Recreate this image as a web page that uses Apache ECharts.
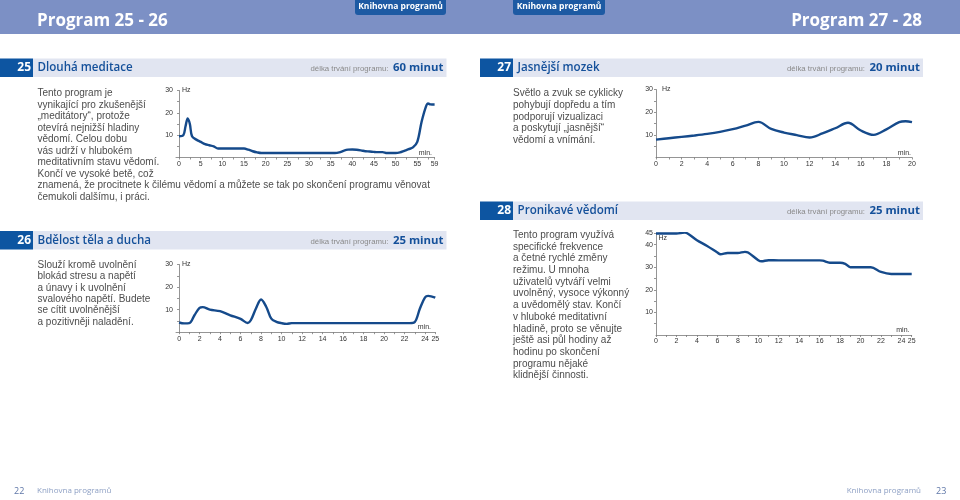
<!DOCTYPE html>
<html><head><meta charset="utf-8">
<script src="https://cdn.jsdelivr.net/npm/echarts@6/dist/echarts.min.js"></script>
<style>html,body{margin:0;padding:0;background:#fff}#c{width:960px;height:500px}</style>
</head><body><div id="c"></div>
<script>
// ---- data ----
const min25 = [0,1,1.5,2,2.5,3,4,5,6,7,8,9,10,12,14,15,16,17,18,19,20,25,30,36,37,38,39,40,41,42,43,44,45,46,47,48,49,50,51,52,53,54,55,56,57,57.5,58,59];
const hz25  = [9.5,10,14,17.5,15,9.5,8,7,6,5.5,5,4,4,4,4,4,3.5,2.8,2.3,2,2,2,2,2,2.3,3,3.5,3.6,3.5,3.2,2.8,2.7,2.5,2.4,2.4,2,2,2,2.3,3,3.7,4.5,7,16,22.8,24.2,23.8,23.7];
const min26 = [0,0.5,1,1.5,2,2.3,3,4,5,6,6.7,7,7.5,8,8.5,9,9.5,10,10.5,11,15,20,22.5,23,23.5,24,24.3,25];
const hz26  = [4.3,3.9,4,7.5,10.8,11.1,10,9.3,7.5,5.9,4.1,5.3,10.5,14.5,11.3,6,4.6,4,3.7,4,4,4,4,4.5,10.5,15.4,16.1,15.3];
const min27 = [0,1,2,3,4,5,6,7,8,9,10,11,12,13,14,15,16,17,18,19,19.5,20];
const hz27  = [7.9,8.5,9.1,9.7,10.4,11.3,12.5,14.1,15.7,12.6,11,9.9,8.8,10.6,12.9,15.3,11.9,10,12.4,15.6,16,15.6];
const min28 = [0,2,2.8,3.2,4,5,6,6.3,7,8,8.7,9,10,10.3,11,12,14,16,16.3,17,18,18.5,19,20,21,22,23,24,25];
const hz28  = [44.9,44.9,45.3,44.6,41.9,39.4,36.5,35.7,36.3,36.3,36.8,36.5,33.1,32.6,33.1,33,33,33,32.9,32,32,31.5,30,30,30,27.9,27,27,27];

const xLabels25 = [0,5,10,15,20,25,30,35,40,45,50,55,59];
const xTicks25 = [0,2.5,5,7.5,10,12.5,15,17.5,20,22.5,25,27.5,30,32.5,35,37.5,40,42.5,45,47.5,50,52.5,55,57.5,59];
const xLabels26 = [0,2,4,6,8,10,12,14,16,18,20,22,24,25];
const xTicks26 = [0,1,2,3,4,5,6,7,8,9,10,11,12,13,14,15,16,17,18,19,20,21,22,23,24,25];
const xLabels27 = [0,2,4,6,8,10,12,14,16,18,20];
const xTicks27 = [0,1,2,3,4,5,6,7,8,9,10,11,12,13,14,15,16,17,18,19,20];
const xLabels28 = [0,2,4,6,8,10,12,14,16,18,20,22,24,25];
const xTicks28 = [0,1,2,3,4,5,6,7,8,9,10,11,12,13,14,15,16,17,18,19,20,21,22,23,24,25];
const yLabels30 = [10,20,30];
const yTicks30 = [5,10,15,20,25,30];
const yLabels45 = [10,20,30,40,45];
const yTicks45 = [5,10,15,20,25,30,35,40,45];

const text25 = ["Tento program je","vynikající pro zkušenější","„meditátory“, protože","otevírá nejnižší hladiny","vědomí. Celou dobu","vás udrží v hlubokém","meditativním stavu vědomí.","Končí ve vysoké betě, což","znamená, že procitnete k čilému vědomí a můžete se tak po skončení programu věnovat","čemukoli dalšímu, i práci."];
const text26 = ["Slouží kromě uvolnění","blokád stresu a napětí","a únavy i k uvolnění","svalového napětí. Budete","se cítit uvolněnější","a pozitivněji naladění."];
const text27 = ["Světlo a zvuk se cyklicky","pohybují dopředu a tím","podporují vizualizaci","a poskytují „jasnější“","vědomí a vnímání."];
const text28 = ["Tento program využívá","specifické frekvence","a četné rychlé změny","režimu. U mnoha","uživatelů vytváří velmi","uvolněný, vysoce výkonný","a uvědomělý stav. Končí","v hluboké meditativní","hladině, proto se věnujte","ještě asi půl hodiny až","hodinu po skončení","programu nějaké","klidnější činnosti."];

// ---- chart ----
const LINE = '#154a8b';
const AX = '#7a7a7a';
const SANS = '"Liberation Sans", Arial, sans-serif';
const HEAD = '"Open Sans", "Noto Sans", sans-serif';

function pairs(xs, ys){ return xs.map((x,i)=>[x, ys[i]]); }

function xAxis(idx, min, max, labels, ticks){
  return {type:'value', gridIndex:idx, min:min, max:max,
    axisLine:{show:true, lineStyle:{color:AX, width:0.8}},
    axisTick:{show:true, length:2, lineStyle:{color:AX, width:0.8}, customValues:ticks},
    axisLabel:{fontSize:7, color:'#333', margin:3, fontFamily:SANS, customValues:labels},
    splitLine:{show:false}};
}
function yAxis(idx, max, labels, ticks){
  return {type:'value', gridIndex:idx, min:0, max:max,
    axisLine:{show:true, lineStyle:{color:AX, width:0.8}},
    axisTick:{show:true, length:2, lineStyle:{color:AX, width:0.8}, customValues:ticks},
    axisLabel:{fontSize:7, color:'#333', margin:3, fontFamily:SANS, customValues:labels},
    splitLine:{show:false}};
}
function series(idx, xs, ys){
  return {type:'line', xAxisIndex:idx, yAxisIndex:idx, data:pairs(xs,ys), smooth:0.35,
    showSymbol:false, symbol:'none', lineStyle:{color:LINE, width:2.4}, silent:true, animation:false};
}

const g = [];
function txt(x,y,text,style){ g.push({type:'text', x:x, y:y, silent:true, style:Object.assign({text:text}, style)}); }
function rect(x,y,w,h,fill,r){ g.push({type:'rect', silent:true, shape:{x:x,y:y,width:w,height:h,r:r||0}, style:{fill:fill}}); }

// header band
rect(0,0,960,34,'#7c90c5');
txt(37,21,'Program 25 - 26',{font:'bold 17px '+HEAD, fill:'#fff', textVerticalAlign:'middle'});
txt(922,21,'Program 27 - 28',{font:'bold 17px '+HEAD, fill:'#fff', textAlign:'right', textVerticalAlign:'middle'});
rect(355,-4,91,19,'#1d5aa3',3);
txt(400.5,7,'Knihovna programů',{font:'bold 8.5px '+HEAD, fill:'#fff', textAlign:'center', textVerticalAlign:'middle'});
rect(513,-4,92,19,'#1d5aa3',3);
txt(559,7,'Knihovna programů',{font:'bold 8.5px '+HEAD, fill:'#fff', textAlign:'center', textVerticalAlign:'middle'});

// section bars
function section(x0, x1, y, num, title, dur){
  rect(x0+33, y, x1-x0-33, 18.5, '#e1e5f1');
  rect(x0, y, 33, 18.5, '#0d55a1');
  txt(x0+31, y+9.5, num, {font:'bold 12px '+HEAD, fill:'#fff', textAlign:'right', textVerticalAlign:'middle'});
  txt(x0+37.5, y+9.5, title, {font:'600 11.6px '+HEAD, fill:'#14509a', textVerticalAlign:'middle'});
  txt(x1-3, y+9.5, dur, {font:'bold 11.4px '+HEAD, fill:'#14509a', textAlign:'right', textVerticalAlign:'middle'});
  txt(x1-58, y+10.5, 'délka trvání programu:', {font:'7.8px '+SANS, fill:'#8a8a8a', textAlign:'right', textVerticalAlign:'middle'});
}
section(0, 446.5, 58.5, '25', 'Dlouhá meditace', '60 minut');
section(0, 446.5, 231, '26', 'Bdělost těla a ducha', '25 minut');
section(480, 923, 58.5, '27', 'Jasnější mozek', '20 minut');
section(480, 923, 201.5, '28', 'Pronikavé vědomí', '25 minut');

// paragraphs
function para(x, y, lines, lh){
  txt(x, y, lines.join('\n'), {font:'10px '+SANS, fill:'#4d4d4d', lineHeight:lh, textVerticalAlign:'top'});
}
para(37.5, 87.6, text25, 11.5);
para(37.5, 259.4, text26, 11.35);
para(513, 87.6, text27, 11.7);
para(513, 229.2, text28, 11.72);

// axis names
const axn = {font:'7px '+SANS, fill:'#333', textVerticalAlign:'middle'};
txt(182, 90.5, 'Hz', axn);
txt(432, 153, 'min.', Object.assign({textAlign:'right'}, axn));
txt(182, 264.5, 'Hz', axn);
txt(431, 327, 'min.', Object.assign({textAlign:'right'}, axn));
txt(662, 89.5, 'Hz', axn);
txt(911, 153, 'min.', Object.assign({textAlign:'right'}, axn));
txt(658.5, 238.5, 'Hz', axn);
txt(909.5, 330, 'min.', Object.assign({textAlign:'right'}, axn));

// footer
txt(14, 491, '22', {font:'9px '+HEAD, fill:'#5f77a8', textVerticalAlign:'middle'});
txt(37, 491, 'Knihovna programů', {font:'8px '+HEAD, fill:'#8ea0c4', textVerticalAlign:'middle'});
txt(921, 491, 'Knihovna programů', {font:'8px '+HEAD, fill:'#8ea0c4', textAlign:'right', textVerticalAlign:'middle'});
txt(936, 491, '23', {font:'9px '+HEAD, fill:'#5f77a8', textVerticalAlign:'middle'});

const option = {
  animation:false,
  backgroundColor:'#fff',
  grid:[
    {left:176, top:90.5, width:258.6, height:67},
    {left:176, top:264.5, width:259.3, height:67.7},
    {left:656, top:89.5, width:256, height:68},
    {left:656, top:233.3, width:255.7, height:101.7}
  ],
  xAxis:[
    xAxis(0, -0.7, 59, xLabels25, xTicks25),
    xAxis(1, -0.3, 25, xLabels26, xTicks26),
    xAxis(2, 0, 20, xLabels27, xTicks27),
    xAxis(3, 0, 25, xLabels28, xTicks28)
  ],
  yAxis:[
    yAxis(0, 30, yLabels30, yTicks30),
    yAxis(1, 30, yLabels30, yTicks30),
    yAxis(2, 30, yLabels30, yTicks30),
    yAxis(3, 45, yLabels45, yTicks45)
  ],
  series:[
    series(0, min25, hz25),
    series(1, min26, hz26),
    series(2, min27, hz27),
    series(3, min28, hz28)
  ],
  graphic:{elements:g}
};
const chart = echarts.init(document.getElementById('c'), null, {renderer:'canvas', width:960, height:500});
chart.setOption(option);
</script></body></html>
